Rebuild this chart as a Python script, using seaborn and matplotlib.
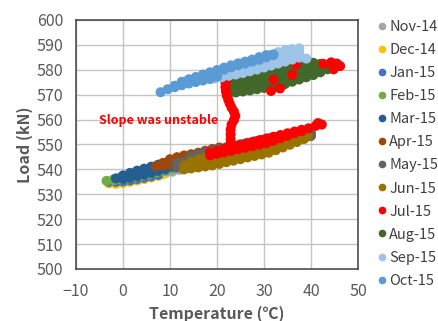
import matplotlib
matplotlib.use("Agg")
import matplotlib.pyplot as plt
from matplotlib.lines import Line2D
import pandas as pd
import seaborn as sns

# ---- data (temperature °C, [load kN, ...]) ----
months = ['Nov-14', 'Dec-14', 'Jan-15', 'Feb-15', 'Mar-15', 'Apr-15',
          'May-15', 'Jun-15', 'Jul-15', 'Aug-15', 'Sep-15', 'Oct-15']
colors = ['#A5A5A5', '#FFC000', '#4472C4', '#70AD47', '#255E91', '#9E480E',
          '#636363', '#997300', '#FF0000', '#43682B', '#9DC3E6', '#5B9BD5']

nov14 = [(4.5, [537.2, 539.4]), (6, [537.6, 539.8]), (7.5, [538.0, 540.2]),
         (9, [538.5, 540.7]), (10.5, [539.1, 541.3]), (12, [539.8, 542.0]),
         (13.5, [540.5, 542.7]), (15, [541.3, 543.5])]
dec14 = [(-3, [534.4]), (-1.5, [534.2, 536.0]), (0, [534.5, 536.4]),
         (1.5, [535.0, 536.9]), (3, [535.5, 537.4]), (4.5, [536.1, 538.0]),
         (6, [536.7, 538.6]), (7.5, [537.4, 539.2]), (8.5, [538.0])]
jan15 = [(-3, [535.0]), (-1.5, [535.0, 535.6]), (0, [535.2, 536.4]),
         (1.5, [535.6, 537.2]), (3, [536.1, 537.9]), (4.5, [536.6, 538.6]),
         (6, [537.2, 539.3]), (7.5, [537.8, 539.9]), (9, [539.5])]
feb15 = [(-3.5, [535.4]), (-2, [535.6, 536.0]), (-0.5, [536.0, 536.6]),
         (1, [536.4, 537.4]), (2.5, [536.9, 538.1]), (4, [537.4, 538.8]),
         (5.5, [538.0, 539.5]), (7, [538.7, 540.1]), (8.5, [539.4, 540.6]),
         (10, [540.1, 541.0]), (11, [540.6])]
mar15 = [(-1.5, [536.4]), (0, [536.2, 537.6]), (1.5, [536.7, 538.6]),
         (3, [537.3, 539.5]), (4.5, [537.9, 540.3]), (6, [538.6, 541.1]),
         (7.5, [539.4, 541.9]), (9, [540.1, 542.6]), (10.5, [541.1, 543.0]),
         (11.5, [542.8])]
apr15 = [(7, [541.3]), (8.5, [541.6, 542.6]), (10, [542.0, 544.1]),
         (11.5, [542.4, 544.9]), (13, [543.0, 545.6]), (14.5, [543.7, 546.1]),
         (16, [544.4, 546.7]), (17.5, [545.2, 547.5]), (19, [546.0, 548.2]),
         (20.5, [546.8, 548.8])]
may15 = [(11.5, [540.8, 542.6]), (13, [541.0, 543.0]), (14.5, [541.5, 543.6, 545.2]),
         (16, [542.1, 544.2, 546.0]), (17.5, [542.7, 544.8, 546.8]),
         (19, [543.3, 545.4, 547.6]), (20.5, [543.9, 546.0, 548.3]),
         (22, [544.5, 546.6, 548.9]), (23.5, [545.1, 547.2, 549.5]),
         (25, [545.7, 547.8, 550.1]), (26.5, [546.3, 548.4, 550.7]),
         (28, [546.9, 549.0, 551.3]), (29.5, [547.5, 549.6, 551.9]),
         (31, [548.1, 550.2, 552.5]), (32.5, [548.8, 550.9, 553.0]),
         (34, [549.6, 551.6, 553.5]), (35.5, [550.4, 552.3, 554.0]),
         (37, [551.4, 553.0, 554.6]), (38.5, [552.4, 553.9, 555.0]),
         (40, [553.4, 554.6])]
jun15 = [(13, [540.0, 541.6]), (14.5, [540.4, 543.1]), (16, [540.8, 542.5, 544.1]),
         (17.5, [541.2, 543.0, 544.9]), (19, [541.6, 543.6, 545.6]),
         (20.5, [542.2, 544.1, 546.1]), (22, [542.9, 544.8, 546.7]),
         (23.5, [543.5, 545.4, 547.3]), (25, [544.1, 546.0, 547.9]),
         (26.5, [544.8, 546.6, 548.5]), (28, [545.4, 547.3, 549.1]),
         (29.5, [546.0, 547.8, 549.7]), (31, [546.7, 548.5, 550.4]),
         (32.5, [547.7, 549.4, 551.2]), (34, [548.8, 550.4, 552.0]),
         (35.5, [549.9, 551.4, 552.8]), (37, [551.0, 552.3, 553.6]),
         (38.5, [552.2, 553.2]), (39.3, [553.2])]
aug15 = [(22.5, [570.5, 572.3, 574.0, 575.8]), (24, [570.9, 572.8, 574.7, 576.6]),
         (25.5, [571.3, 573.3, 575.3, 577.3]), (27, [571.7, 573.8, 576.0, 578.1]),
         (28.5, [572.2, 574.4, 576.6, 578.8]), (30, [572.7, 575.0, 577.3, 579.6]),
         (31.5, [573.2, 575.6, 577.9, 580.3]), (33, [573.7, 576.2, 578.6, 581.1]),
         (34.5, [574.3, 576.8, 579.3, 581.8]), (36, [575.2, 577.6, 580.0, 582.4]),
         (37.5, [576.1, 578.3, 580.6, 582.8]), (39, [577.0, 579.0, 580.9, 582.9]),
         (40.5, [577.9, 579.5, 581.2, 582.8]), (42, [579.0, 580.7, 582.4]),
         (43.5, [580.2, 581.8]), (45, [581.2])]
jul15 = [(18.5, [545.6, 546.8]), (20, [546.2, 547.5]), (21.5, [546.8, 548.2]),
         (23, [547.4, 548.9]), (24.5, [548.1, 549.6]), (26, [548.7, 550.3]),
         (27.5, [549.3, 551.0]), (29, [549.9, 551.7]), (30.5, [550.5, 552.4]),
         (32, [551.5, 553.1]), (33.5, [552.5, 553.8]), (35, [553.5, 554.5]),
         (36.5, [554.5, 555.2]), (38, [555.4, 555.9]), (39.5, [556.5]),
         (41, [557.5]), (42.3, [558.0]), (41.5, [558.6]),
         # the jump of the unstable slope
         (22.9, [550.0, 552.0, 554.0, 556.0]), (23.1, [558.0]), (23.6, [559.8]),
         (23.9, [561.5]), (23.6, [563.2]), (23.1, [564.8]), (22.7, [566.5]),
         (22.4, [568.0]), (22.1, [569.6]), (21.9, [571.3]), (21.8, [573.0, 574.7]),
         (22.0, [576.0]),
         # scattered points on the upper band
         (31.5, [571.5]), (33.4, [572.5]), (32, [576.0]), (36, [578.0]),
         (36.8, [582.0]), (42.6, [582.4]), (44.3, [583.0]), (45.5, [582.5]),
         (46.2, [581.5]), (44.8, [580.2])]
sep15 = [(19.5, [576.5, 577.1]), (21, [577.0, 578.6]), (22.5, [577.6, 579.7]),
         (24, [578.1, 580.6]), (25.5, [578.7, 581.5]), (27, [579.4, 582.6]),
         (28.5, [580.1, 582.1, 583.7]), (30, [580.9, 583.1, 584.8]),
         (31.5, [581.7, 584.1, 586.0]), (33, [582.5, 585.0, 587.1]),
         (34.5, [583.3, 585.7, 587.8]), (36, [584.1, 586.3, 588.3]),
         (37.5, [584.9, 586.9, 588.6]), (39, [584.5])]
oct15 = [(8, [571.0]), (9.5, [572.2]), (11, [573.0, 573.6]), (12.5, [573.8, 575.2]),
         (14, [574.5, 576.2]), (15.5, [575.1, 577.1]), (17, [575.7, 578.1]),
         (18.5, [576.3, 579.0]), (20, [577.2, 578.6, 579.9]), (21.5, [580.0, 580.9]),
         (23, [581.0, 581.8]), (24.5, [581.8, 582.6]), (26, [582.5, 583.3]),
         (27.5, [583.3, 584.1]), (29, [584.0, 585.1]), (30.5, [585.0, 585.9]),
         (32, [585.9, 586.2])]

x_ticks = [-10, 0, 10, 20, 30, 40, 50]
y_ticks = [500, 510, 520, 530, 540, 550, 560, 570, 580, 590, 600]

series = {'Nov-14': nov14, 'Dec-14': dec14, 'Jan-15': jan15, 'Feb-15': feb15,
          'Mar-15': mar15, 'Apr-15': apr15, 'May-15': may15, 'Jun-15': jun15,
          'Jul-15': jul15, 'Aug-15': aug15, 'Sep-15': sep15, 'Oct-15': oct15}
draw_order = ['Nov-14', 'Dec-14', 'Jan-15', 'Feb-15', 'Mar-15', 'Apr-15',
              'May-15', 'Jun-15', 'Aug-15', 'Jul-15', 'Sep-15', 'Oct-15']

rows = []
for m in draw_order:
    for t, loads in series[m]:
        for l in loads:
            rows.append((t, l, m))
df = pd.DataFrame(rows, columns=['Temperature', 'Load', 'Month'])

sns.set_style('white')
plt.rcParams['font.family'] = ['Noto Sans CJK JP', 'DejaVu Sans']
plt.rcParams['axes.unicode_minus'] = True

fig = plt.figure(figsize=(4.38, 3.21), dpi=100)
ax = fig.add_axes([0.1735, 0.162, 0.6438, 0.7757])

palette = dict(zip(months, colors))
sns.scatterplot(data=df, x='Temperature', y='Load', hue='Month', palette=palette,
                s=52, linewidth=0, legend=False, ax=ax, zorder=3)

ax.set_xlim(-10, 50)
ax.set_ylim(500, 600)
ax.set_xticks(x_ticks)
ax.set_yticks(y_ticks)
ax.grid(True, color='#C4C4C4', linewidth=1.0)
ax.set_axisbelow(True)
for sp in ax.spines.values():
    sp.set_color('#404040')
    sp.set_linewidth(1.1)
    sp.set_visible(True)
ax.tick_params(axis='both', length=0, labelsize=11.5, labelcolor='#595959')
ax.tick_params(axis='y', pad=9)
ax.tick_params(axis='x', pad=10)
ax.set_xlabel('Temperature (℃)', fontsize=11.5, fontweight='bold', color='#595959', labelpad=4)
ax.set_ylabel('Load (kN)', fontsize=11.5, fontweight='bold', color='#595959', labelpad=3)

ax.text(-5.1, 559.8, 'Slope was unstable', color='#FF0000', fontsize=9,
        fontweight='bold', ha='left', va='center', zorder=5)

handles = [Line2D([], [], marker='o', linestyle='', color=c, markersize=4.5) for c in colors]
fig.legend(handles, months, loc='upper left', bbox_to_anchor=(0.862, 0.937),
           frameon=False, fontsize=10.5, handlelength=0.6, handletextpad=0.2,
           labelspacing=0.62, borderpad=0, borderaxespad=0, labelcolor='#404040')

fig.savefig('out.png', dpi=100)
